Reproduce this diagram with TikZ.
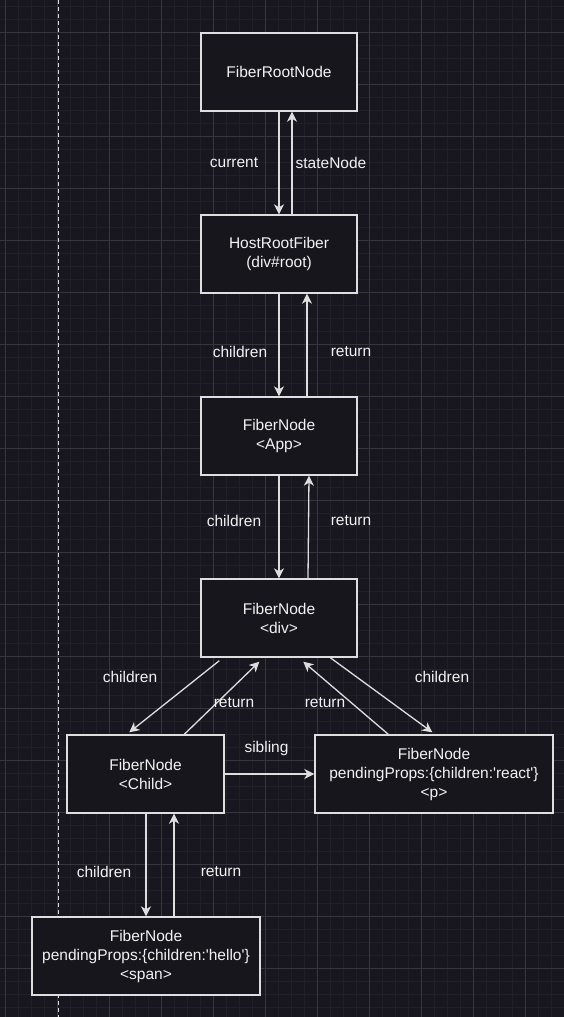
\documentclass[tikz,border=0pt]{standalone}
\usepackage{fontspec}
\setmainfont{Liberation Sans}
\usetikzlibrary{arrows.meta}
\definecolor{bgc}{RGB}{24,22,30}
\definecolor{minorc}{RGB}{33,31,39}
\definecolor{majorc}{RGB}{56,54,61}
\definecolor{boxfill}{RGB}{24,22,29}
\definecolor{edgec}{RGB}{222,222,222}
\definecolor{txtc}{RGB}{242,242,242}
\tikzset{
  fbox/.style={draw=edgec, fill=boxfill, line width=1.4pt, inner sep=0pt, align=center,
    text=txtc, font=\fontsize{15.5}{19}\selectfont, minimum height=78pt},
  arr/.style={draw=edgec, line width=1.3pt, -{Stealth[length=10pt,width=10pt,inset=3pt]}},
  lbl/.style={text=txtc, font=\fontsize{15.5}{19}\selectfont, inner sep=0pt},
  minorline/.style={draw=minorc, line width=0.8pt},
  majorline/.style={draw=majorc, line width=1pt}
}
\begin{document}
\begin{tikzpicture}[x=1pt,y=-1pt]
\useasboundingbox (0,0) rectangle (564,1017);
\fill[bgc] (0,0) rectangle (564,1017);
% grid
\foreach \x in {5,18,...,564} \draw[minorline] (\x,0) -- (\x,1017);
\foreach \y in {6,19,...,1017} \draw[minorline] (0,\y) -- (564,\y);
\foreach \x in {5,57,...,564} \draw[majorline] (\x,0) -- (\x,1017);
\foreach \y in {32,84,...,1017} \draw[majorline] (0,\y) -- (564,\y);
% dashed guide
\draw[draw=edgec, line width=1pt, dash pattern=on 4pt off 3pt] (58,0) -- (58,1017);
% boxes
\node[fbox, minimum width=156pt] (root) at (279,72) {FiberRootNode};
\node[fbox, minimum width=156pt] (host) at (279,254) {HostRootFiber\\(div\#root)};
\node[fbox, minimum width=156pt] (app) at (279,436) {FiberNode\\<App>};
\node[fbox, minimum width=156pt] (div) at (279,618) {FiberNode\\<div>};
\node[fbox, minimum width=157pt] (child) at (145.5,774) {FiberNode\\<Child>};
\node[fbox, minimum width=238pt] (p) at (434,774) {FiberNode\\pendingProps:\{children:\textquotesingle react\textquotesingle\}\\<p>};
\node[fbox, minimum width=228pt] (span) at (146,956) {FiberNode\\pendingProps:\{children:\textquotesingle hello\textquotesingle\}\\<span>};
% connectors
\draw[arr] (root.south) -- (host.north);
\draw[arr] ([xshift=13pt]host.north) -- ([xshift=13pt]root.south);
\draw[arr] (host.south) -- (app.north);
\draw[arr] ([xshift=28pt]app.north) -- ([xshift=28pt]host.south);
\draw[arr] (app.south) -- (div.north);
\draw[arr] ([xshift=29pt]div.north) -- ([xshift=30pt]app.south);
\draw[arr] ([xshift=19pt,yshift=-3pt]div.south west) -- ([xshift=63pt,yshift=2pt]child.north west);
\draw[arr] ([xshift=118pt]child.north west) -- ([xshift=59pt,yshift=-4pt]div.south west);
\draw[arr] ([xshift=74pt]p.north west) -- ([xshift=103pt,yshift=-4pt]div.south west);
\draw[arr] ([xshift=130pt]div.south west) -- ([xshift=118pt,yshift=2pt]p.north west);
\draw[arr] (child.east) -- (p.west);
\draw[arr] ([xshift=0.5pt]child.south) -- (span.north);
\draw[arr] ([xshift=28pt]span.north) -- ([xshift=28.5pt]child.south);
% labels
\node[lbl] (l1) at (234,163) {current};
\node[lbl] (l2) at (331,163) {stateNode};
\node[lbl] (l3) at (240,352) {children};
\node[lbl] (l4) at (351,352) {return};
\node[lbl] (l5) at (234,521) {children};
\node[lbl] (l6) at (351,521) {return};
\node[lbl] (l7) at (130,677) {children};
\node[lbl] (l8) at (234,703) {return};
\node[lbl] (l9) at (325,703) {return};
\node[lbl] (l10) at (442,677) {children};
\node[lbl] (l11) at (266.5,748) {sibling};
\node[lbl] (l12) at (104,872) {children};
\node[lbl] (l13) at (221,872) {return};
\end{tikzpicture}
\end{document}
